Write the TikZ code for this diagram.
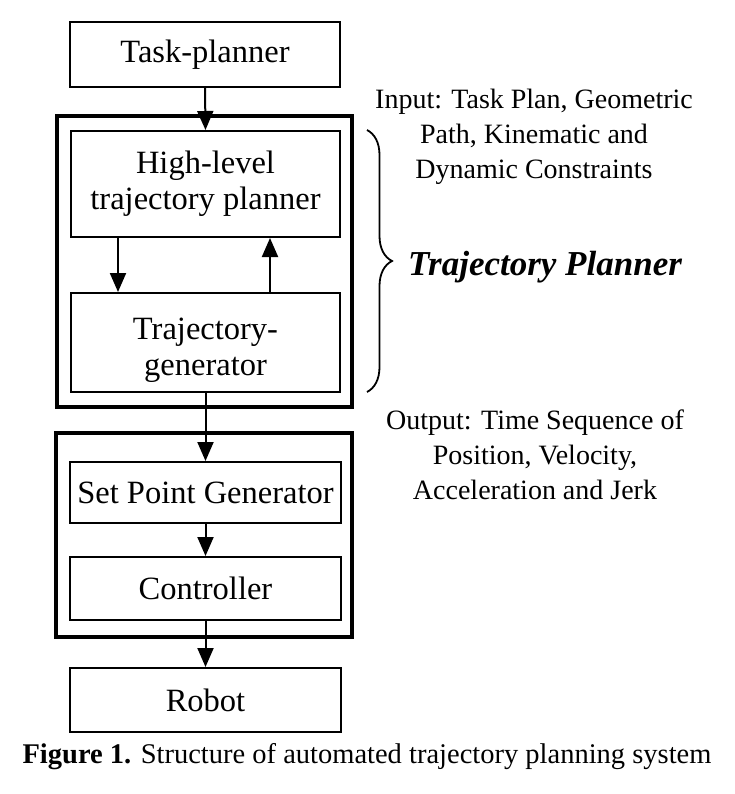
\documentclass[tikz,border=0pt]{standalone}
\usepackage{fontspec}
\setmainfont{Liberation Serif}
\usetikzlibrary{arrows.meta,decorations.pathreplacing}
\tikzset{
  inbox/.style={draw, line width=2pt, rectangle, inner sep=0pt, minimum width=270pt, align=center, font=\fontsize{32.5}{36}\selectfont},
  outbox/.style={draw, line width=4pt, rectangle, inner sep=0pt},
  flow/.style={line width=2pt, -{Triangle[width=16pt,length=19pt]}},
  side/.style={align=center, font=\fontsize{28}{35}\selectfont, inner sep=0pt}
}
\begin{document}
\begin{tikzpicture}[x=1pt,y=-1pt]
\useasboundingbox (0,0) rectangle (734,794);
% outer frames
\node[outbox, minimum width=295pt, minimum height=291pt] (frameA) at (204.5,261.5) {};
\node[outbox, minimum width=296pt, minimum height=204pt] (frameB) at (204,535) {};
% boxes
\node[inbox, minimum height=65pt] (task) at (205,54.5) {Task-planner};
\node[inbox, minimum width=269pt, minimum height=106pt] (hl) at (205.5,184) {High-level\\trajectory planner};
\node[inbox, minimum width=269pt, minimum height=99pt] (tg) at (205.5,342.5) {\rule{0pt}{38pt}Trajectory-\\generator};
\node[inbox, minimum width=271pt, minimum height=61pt] (sp) at (205.5,492.5) {Set Point Generator};
\node[inbox, minimum width=271pt, minimum height=63pt] (ctrl) at (205.5,588.5) {Controller};
\node[inbox, minimum width=271pt, minimum height=64pt] (robot) at (205.5,700) {Robot};
% connectors
\draw[flow] (task.south) -- (hl.north);
\draw[flow] (hl.south -| 118,0) -- (tg.north -| 118,0);
\draw[flow] (tg.north -| 270,0) -- (hl.south -| 270,0);
\draw[flow] (tg.south) -- (sp.north);
\draw[flow] (sp.south) -- (ctrl.north);
\draw[flow] (ctrl.south) -- (robot.north);
% brace
\coordinate (bt) at (367,130);
\coordinate (bb) at (367,392);
\draw[line width=1.8pt, decorate, decoration={brace, amplitude=25pt}] (bt) -- (bb);
% side texts
\node[side] (inp) at (534,137) {Input: Task Plan, Geometric\\Path, Kinematic and\\Dynamic Constraints};
\node[inner sep=0pt, font=\fontsize{35}{38}\selectfont\bfseries\itshape] (tp) at (545,267) {Trajectory Planner};
\node[side] (outp) at (535,455) {Output: Time Sequence of\\Position, Velocity,\\Acceleration and Jerk};
% caption
\node[inner sep=0pt, font=\fontsize{28.5}{32}\selectfont] (cap) at (367,757) {\textbf{Figure 1.} Structure of automated trajectory planning system};
\end{tikzpicture}
\end{document}
